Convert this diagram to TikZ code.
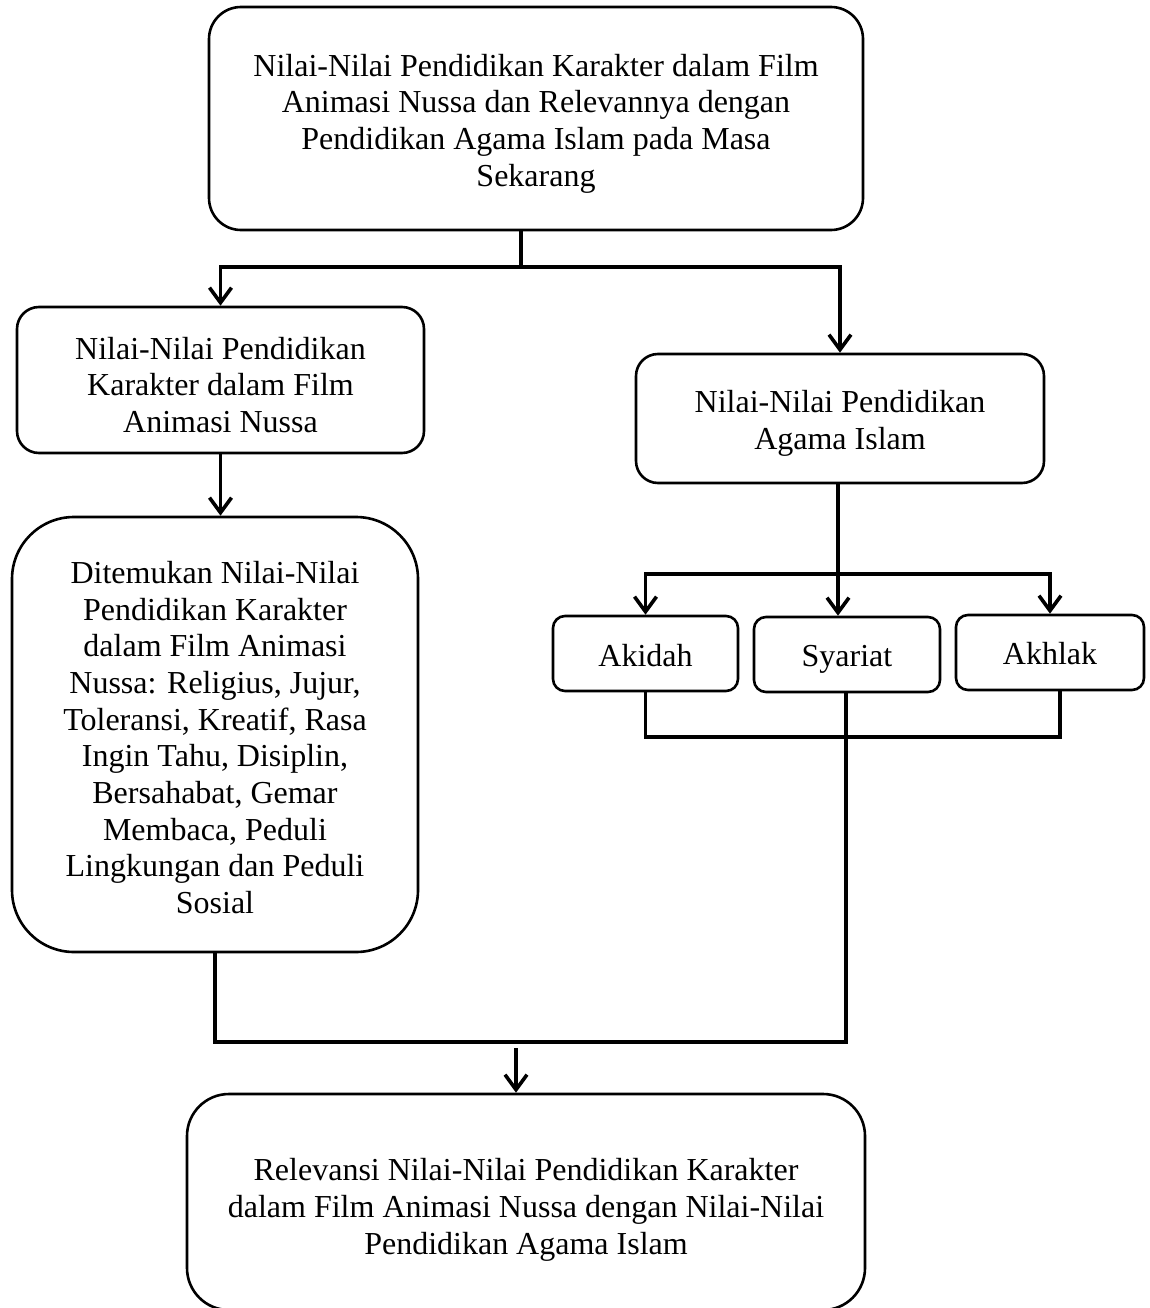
\documentclass[tikz,border=0pt]{standalone}
\usepackage{fontspec}
\setmainfont{Liberation Serif}
\usetikzlibrary{arrows.meta}
\begin{document}
\begin{tikzpicture}[x=1pt,y=-1pt,
  box/.style={draw, line width=2.6pt, rounded corners=#1, inner sep=0pt},
  box/.default=22pt,
  txt/.style={align=center, inner sep=0pt, font=\fontsize{32}{36.7}\selectfont},
  conn/.style={line width=3.6pt},
  arr/.style={conn, -{Straight Barb[length=15pt,width=22pt]}}]
\useasboundingbox (0,0) rectangle (1150,1308);
\clip (0,0) rectangle (1150,1308);
\fill[white] (0,0) rectangle (1150,1308);

% boxes
\node[box=32pt, minimum width=654pt, minimum height=223pt] (top) at (536,118.5) {};
\node[box=22pt, minimum width=407pt, minimum height=146pt] (lbox) at (220.5,380) {};
\node[box=22pt, minimum width=408pt, minimum height=129pt] (rbox) at (840,418.5) {};
\node[box=62pt, minimum width=406pt, minimum height=435pt] (big) at (215,734.5) {};
\node[box=12pt, minimum width=185pt, minimum height=75pt] (akidah) at (645.5,653.5) {};
\node[box=12pt, minimum width=186pt, minimum height=75pt] (syariat) at (847,654.5) {};
\node[box=12pt, minimum width=188pt, minimum height=75pt] (akhlak) at (1050,652.5) {};
\node[box=42pt, minimum width=678pt, minimum height=216pt] (bottom) at (526,1202) {};

% texts
\node[txt] (top-t) at ([yshift=-5pt]top.center)
  {Nilai-Nilai Pendidikan Karakter dalam Film\\Animasi Nussa dan Relevannya dengan\\Pendidikan Agama Islam pada Masa\\Sekarang};
\node[txt] (lbox-t) at ([yshift=-5pt]lbox.center)
  {Nilai-Nilai Pendidikan\\Karakter dalam Film\\Animasi Nussa};
\node[txt] (rbox-t) at ([yshift=-5pt]rbox.center)
  {Nilai-Nilai Pendidikan\\Agama Islam};
\node[txt] (big-t) at ([yshift=-3pt]big.center)
  {Ditemukan Nilai-Nilai\\Pendidikan Karakter\\dalam Film Animasi\\Nussa: Religius, Jujur,\\Toleransi, Kreatif, Rasa\\Ingin Tahu, Disiplin,\\Bersahabat, Gemar\\Membaca, Peduli\\Lingkungan dan Peduli\\Sosial};
\node[txt, anchor=base] (akidah-t) at (645.5,666) {Akidah};
\node[txt, anchor=base] (syariat-t) at (847,666) {Syariat};
\node[txt, anchor=base] (akhlak-t) at (1050,664) {Akhlak};
\node[txt] (bottom-t) at ([yshift=-8pt]bottom.center)
  {Relevansi Nilai-Nilai Pendidikan Karakter\\dalam Film Animasi Nussa dengan Nilai-Nilai\\Pendidikan Agama Islam};

% top split
\coordinate (j1) at (521,267);
\draw[conn] (top.south -| j1) -- (j1);
\draw[arr] (j1) -| (lbox.north);
\draw[arr] (j1) -| (rbox.north);
\draw[arr] (lbox.south) -- (lbox.south |- big.north);

% right split
\coordinate (j2) at (838,574);
\draw[arr] (rbox.south -| j2) -- (syariat.north -| j2);
\draw[arr] (j2) -| (akidah.north);
\draw[arr] (j2) -| (akhlak.north);

% merge of three
\coordinate (k3) at (1060,737);
\draw[conn] (akidah.south) |- (k3) -- (k3 |- akhlak.south);

% final merge
\coordinate (j4) at (846,1042);
\draw[conn] (syariat.south -| j4) -- (j4) -| (big.south);
\coordinate (j5) at (516,1048);
\draw[arr] (j5) -- (bottom.north -| j5);
\end{tikzpicture}
\end{document}
